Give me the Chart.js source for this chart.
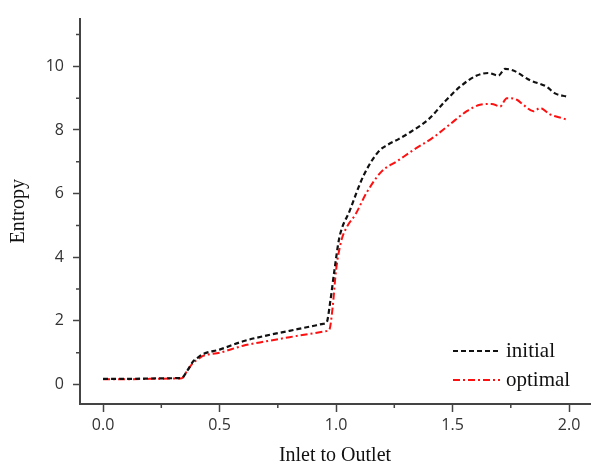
<!DOCTYPE html>
<html>
<head>
<meta charset="utf-8">
<script src="https://cdn.jsdelivr.net/npm/chart.js@4/dist/chart.umd.min.js"></script>
<style>
  html, body { margin: 0; padding: 0; background: #fff; }
  #wrap { width: 592px; height: 470px; position: relative; }
</style>
</head>
<body>
<div id="wrap"><canvas id="c" width="592" height="470"></canvas></div>
<script>
// ---- data ----
const seriesNames = ['initial', 'optimal'];

const initialX = [0, 0.1, 0.2, 0.3, 0.338, 0.36, 0.388, 0.405, 0.429, 0.5, 0.601, 0.7, 0.8, 0.9, 0.945, 0.96, 0.975, 0.993, 1.014, 1.058, 1.117, 1.182, 1.218, 1.27, 1.318, 1.396, 1.468, 1.532, 1.604, 1.654, 1.697, 1.725, 1.761, 1.833, 1.904, 1.94, 1.99];
const initialY = [0.18, 0.18, 0.19, 0.2, 0.21, 0.42, 0.74, 0.84, 0.96, 1.1, 1.36, 1.54, 1.69, 1.84, 1.91, 1.96, 2.6, 3.59, 4.61, 5.45, 6.55, 7.32, 7.52, 7.72, 7.93, 8.33, 8.90, 9.36, 9.71, 9.79, 9.71, 9.92, 9.87, 9.56, 9.36, 9.15, 9.05];

const optimalX = [0, 0.1, 0.2, 0.3, 0.338, 0.36, 0.388, 0.405, 0.429, 0.5, 0.601, 0.7, 0.8, 0.9, 0.96, 0.971, 0.985, 1.0, 1.022, 1.05, 1.082, 1.132, 1.196, 1.26, 1.332, 1.418, 1.489, 1.561, 1.618, 1.668, 1.704, 1.733, 1.776, 1.804, 1.847, 1.876, 1.918, 1.961, 1.99];
const optimalY = [0.17, 0.17, 0.18, 0.19, 0.2, 0.42, 0.7, 0.78, 0.9, 1.0, 1.22, 1.36, 1.49, 1.61, 1.68, 1.72, 2.4, 3.59, 4.5, 5.0, 5.33, 6.04, 6.70, 7.01, 7.37, 7.77, 8.18, 8.59, 8.79, 8.82, 8.74, 9.0, 8.95, 8.79, 8.59, 8.69, 8.49, 8.39, 8.33];

const xMajorTicks = [0, 0.5, 1.0, 1.5, 2.0];
const xMinorTicks = [0.25, 0.75, 1.25, 1.75];
const yMajorTicks = [0, 2, 4, 6, 8, 10];
const yMinorTicks = [1, 3, 5, 7, 9, 11];
const xTitle = 'Inlet to Outlet';
const yTitle = 'Entropy';

// ---- build ----
const toPts = (xs, ys) => xs.map((x, i) => ({ x: x, y: ys[i] }));
const AXIS = '#444';

const minorTicksPlugin = {
  id: 'minorTicks',
  afterDraw(chart) {
    const ctx = chart.ctx;
    const xs = chart.scales.x, ys = chart.scales.y;
    ctx.save();
    ctx.strokeStyle = AXIS;
    ctx.lineWidth = 1.5;
    ctx.beginPath();
    xMinorTicks.forEach(v => {
      const px = xs.getPixelForValue(v);
      ctx.moveTo(px, xs.top);
      ctx.lineTo(px, xs.top + 4);
    });
    yMinorTicks.forEach(v => {
      const py = ys.getPixelForValue(v);
      ctx.moveTo(ys.right, py);
      ctx.lineTo(ys.right - 4, py);
    });
    ctx.stroke();
    ctx.restore();
  }
};

const legendPlugin = {
  id: 'inLegend',
  afterDraw(chart) {
    const ctx = chart.ctx;
    const ca = chart.chartArea;
    ctx.save();
    chart.data.datasets.forEach((ds, i) => {
      const y = ca.bottom - 53 + i * 29;
      const x0 = ca.right - 137;
      ctx.strokeStyle = ds.borderColor;
      ctx.lineWidth = 2;
      ctx.setLineDash(ds.borderDash);
      ctx.beginPath();
      ctx.moveTo(x0, y);
      ctx.lineTo(x0 + 47, y);
      ctx.stroke();
      ctx.setLineDash([]);
      ctx.fillStyle = '#111';
      ctx.font = '21px "Liberation Serif"';
      ctx.textBaseline = 'middle';
      ctx.textAlign = 'left';
      ctx.fillText(ds.label, x0 + 53, y);
    });
    ctx.restore();
  }
};

new Chart(document.getElementById('c'), {
  type: 'line',
  data: {
    datasets: [
      {
        label: seriesNames[0],
        data: toPts(initialX, initialY),
        borderColor: '#111111',
        borderWidth: 2.2,
        borderDash: [5, 3],
        pointRadius: 0,
        cubicInterpolationMode: 'monotone',
        fill: false
      },
      {
        label: seriesNames[1],
        data: toPts(optimalX, optimalY),
        borderColor: '#ff1010',
        borderWidth: 2,
        borderDash: [7, 3, 2, 3],
        pointRadius: 0,
        cubicInterpolationMode: 'monotone',
        fill: false
      }
    ]
  },
  options: {
    responsive: false,
    animation: false,
    layout: { padding: { top: 8, right: 2, left: 0, bottom: 0 } },
    plugins: { legend: { display: false }, tooltip: { enabled: false } },
    scales: {
      x: {
        type: 'linear',
        min: -0.099,
        max: 2.09,
        afterBuildTicks: s => { s.ticks = xMajorTicks.map(v => ({ value: v })); },
        afterFit: s => { s.height = 66; },
        ticks: {
          color: '#333',
          font: { family: '"Open Sans"', size: 16 },
          padding: 4,
          callback: v => Number(v).toFixed(1),
          maxRotation: 0
        },
        grid: { drawOnChartArea: false, drawTicks: true, tickLength: 8, tickColor: AXIS, tickWidth: 1.5 },
        border: { color: AXIS, width: 2 },
        title: {
          display: true,
          text: xTitle,
          color: '#111',
          font: { family: '"Liberation Serif"', size: 20 },
          padding: { top: 4, bottom: 2 }
        }
      },
      y: {
        type: 'linear',
        min: -0.61,
        max: 11.5,
        afterBuildTicks: s => { s.ticks = yMajorTicks.map(v => ({ value: v })); },
        afterFit: s => { s.width = 80; },
        ticks: {
          color: '#333',
          font: { family: '"Open Sans"', size: 16 },
          padding: 9
        },
        grid: { drawOnChartArea: false, drawTicks: true, tickLength: 7, tickColor: AXIS, tickWidth: 1.5 },
        border: { color: AXIS, width: 2 },
        title: {
          display: true,
          text: yTitle,
          color: '#111',
          font: { family: '"Liberation Serif"', size: 20 },
          padding: { top: 7, bottom: 4 }
        }
      }
    }
  },
  plugins: [minorTicksPlugin, legendPlugin]
});
</script>
</body>
</html>
